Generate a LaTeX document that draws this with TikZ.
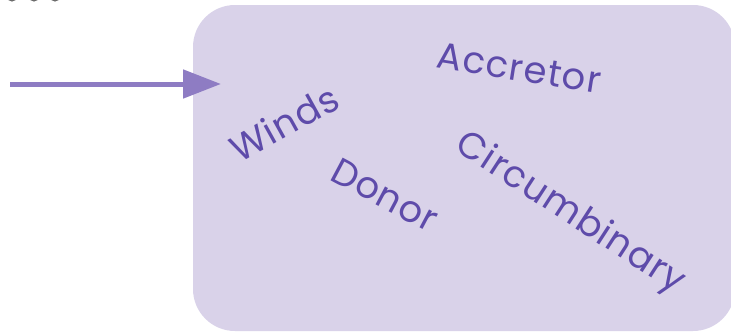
\documentclass[tikz,border=0pt]{standalone}
\usepackage{fontspec}
\setmainfont{Poppins}[LetterSpace=3]
\usetikzlibrary{arrows.meta}
\definecolor{boxfill}{HTML}{D9D2E9}
\definecolor{arrowcol}{HTML}{8E7CC3}
\definecolor{labelcol}{HTML}{5E4BAA}
\definecolor{markgrey}{HTML}{6B6B6B}
\tikzset{
  region/.style={fill=boxfill, draw=none, rounded corners=42pt},
  label/.style={text=labelcol, font=\fontsize{37}{42}\selectfont, inner sep=0pt, anchor=center},
  flow/.style={draw=arrowcol, line width=5pt, -{Triangle[length=38pt,width=28pt]}}
}
\begin{document}
\begin{tikzpicture}[x=1pt,y=-1pt]
  \useasboundingbox (0,0) rectangle (731,332);
  % fragments of glyphs at the top edge
  \begin{scope}
    \clip (0,0) rectangle (80,3);
    \foreach \cx in {12,34,55}
      \draw[markgrey, line width=2pt] (\cx,-5) circle[radius=5.5pt];
  \end{scope}
  % rounded region
  \fill[region] (193,5) rectangle (735,331);
  \coordinate (entry) at (221,84);
  \coordinate (start) at (10,84);
  \draw[flow] (start) -- (entry);
  \node[label, rotate=-9]  (acc)  at (519,68)  {Accretor};
  \node[label, rotate=29]  (wind) at (284,123) {Winds};
  \node[label, rotate=-28] (don)  at (385,195) {Donor};
  \node[label, rotate=-33] (circ) at (570,214) {Circumbinary};
\end{tikzpicture}
\end{document}
